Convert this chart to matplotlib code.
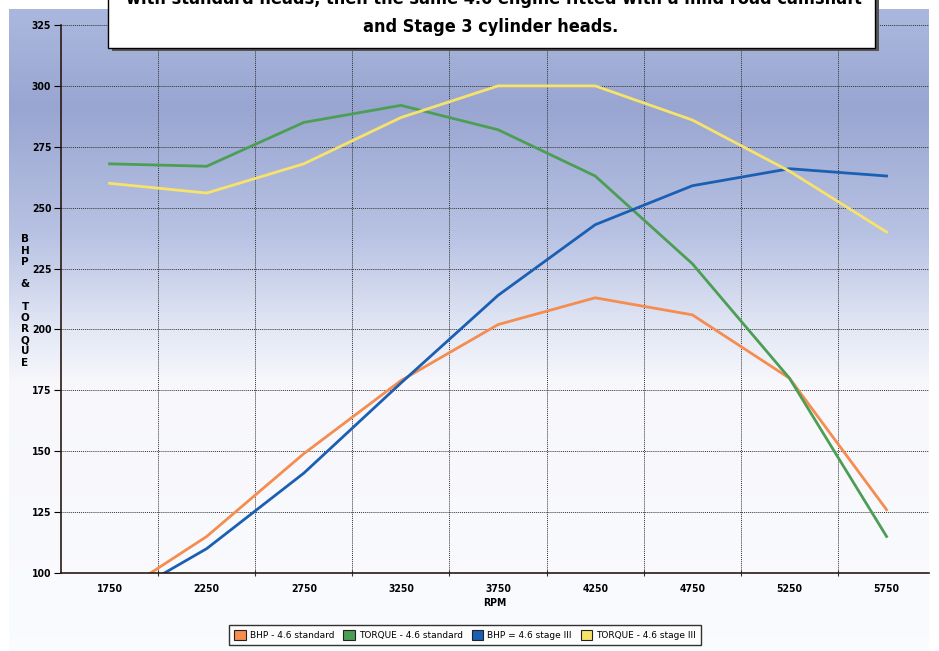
import numpy as np
import matplotlib.pyplot as plt
from matplotlib.patches import Patch, Rectangle
from matplotlib.colors import LinearSegmentedColormap

rpm = ['1750', '2250', '2750', '3250', '3750', '4250', '4750', '5250', '5750']
bhp_std = [89, 115, 149, 179, 202, 213, 206, 180, 126]
torque_std = [268, 267, 285, 292, 282, 263, 227, 180, 115]
bhp_st3 = [87, 110, 141, 178, 214, 243, 259, 266, 263]
torque_st3 = [260, 256, 268, 287, 300, 300, 286, 265, 240]
yticks = [100, 125, 150, 175, 200, 225, 250, 275, 300, 325]

names = ['BHP - 4.6 standard', 'TORQUE - 4.6 standard', 'BHP = 4.6 stage III', 'TORQUE - 4.6 stage III']
colors = ['#f58c50', '#4c9e55', '#1b5fb3', '#f8e36a']

W, H = 939, 651
fig = plt.figure(figsize=(W/100, H/100), dpi=100)
fig.patch.set_facecolor('white')

# background gradient panel
bg = fig.add_axes([9/W, 0, 920/W, 642/H], zorder=-5)
bg.axis('off')
cmap = LinearSegmentedColormap.from_list('bg', [
    (0.0, (0.67, 0.72, 0.87)),
    (0.15, (0.60, 0.65, 0.82)),
    (0.35, (0.72, 0.76, 0.89)),
    (0.50, (0.89, 0.91, 0.96)),
    (0.58, (0.97, 0.97, 0.99)),
    (1.0, (0.98, 0.985, 0.995))])
grad = np.linspace(0, 1, 256).reshape(-1, 1)
bg.imshow(grad, aspect='auto', cmap=cmap, extent=[0, 1, 0, 1], origin='upper')
bg.set_xlim(0, 1)
bg.set_ylim(0, 1)

ax = fig.add_axes([61/W, (H-573)/H, (929-61)/W, (573-25)/H])
ax.patch.set_alpha(0)
x = np.arange(len(rpm))
series = [bhp_std, torque_std, bhp_st3, torque_st3]
for vals, c in zip(series, colors):
    ax.plot(x, vals, color=c, lw=2.0, solid_joinstyle='miter')

ax.set_xlim(-0.5, 8.437)
ax.set_ylim(100, 325)
ax.set_yticks(yticks)
bounds = np.arange(0.5, 8, 1)
ax.set_xticks(bounds)
ax.set_xticklabels([])
ax.set_xticks(x, minor=True)
ax.set_xticklabels(rpm, minor=True)
ax.tick_params(axis='x', which='minor', length=0, pad=8)
ax.tick_params(axis='x', which='major', length=5, direction='inout', color='#333333')
ax.tick_params(axis='y', length=5, direction='out', pad=2)
for lab in ax.get_xticklabels(minor=True) + ax.get_yticklabels():
    lab.set_fontsize(7.5)
    lab.set_fontweight('bold')
    lab.set_fontstretch('condensed')
ax.grid(True, which='major', color='#333333', linestyle=(0, (1, 1)), lw=0.7)
for s in ['top', 'right']:
    ax.spines[s].set_visible(False)
ax.spines['left'].set_color('#2a1a10')
ax.spines['bottom'].set_color('#2a1a10')
ax.spines['left'].set_linewidth(1.2)
ax.spines['bottom'].set_linewidth(1.2)

ax.text(0.5, -0.045, 'RPM', transform=ax.transAxes, ha='center', va='top',
        fontsize=7.5, fontweight='bold', fontstretch='condensed')
fig.text(25/W, 1 - 301/H, 'B\nH\nP\n\n&\n\nT\nO\nR\nQ\nU\nE', ha='center', va='center',
         fontsize=7.5, fontweight='bold', linespacing=1.15)

# title box
fig.patches.append(Rectangle((112/W, 1 - 51/H), 767/W, 60/H, transform=fig.transFigure,
                             facecolor='#555555', edgecolor='none', zorder=5))
fig.patches.append(Rectangle((108/W, 1 - 48/H), 767/W, 60/H, transform=fig.transFigure,
                             facecolor='white', edgecolor='black', lw=1.0, zorder=6))
fig.text(491/W, 1 - 27/H, 'and Stage 3 cylinder heads.', ha='center', va='center',
         fontsize=13, fontweight='bold', fontstretch='condensed', zorder=7)
fig.text(494/W, 1 + 1/H, 'with standard heads, then the same 4.6 engine fitted with a mild road camshaft',
         ha='center', va='center', fontsize=13, fontweight='bold', fontstretch='condensed', zorder=7)

handles = [Patch(facecolor=c, edgecolor='#222222', lw=0.8) for c in colors]
leg = fig.legend(handles, names, loc='center', bbox_to_anchor=(465/W, 1 - 635/H), ncol=4,
                 fontsize=6.5, frameon=True, fancybox=False, edgecolor='black',
                 handlelength=1.3, handleheight=1.3, handletextpad=0.4, columnspacing=1.0,
                 borderpad=0.55)
leg.get_frame().set_linewidth(1.0)
leg.get_frame().set_facecolor('white')

fig.savefig('out.png', dpi=100)
